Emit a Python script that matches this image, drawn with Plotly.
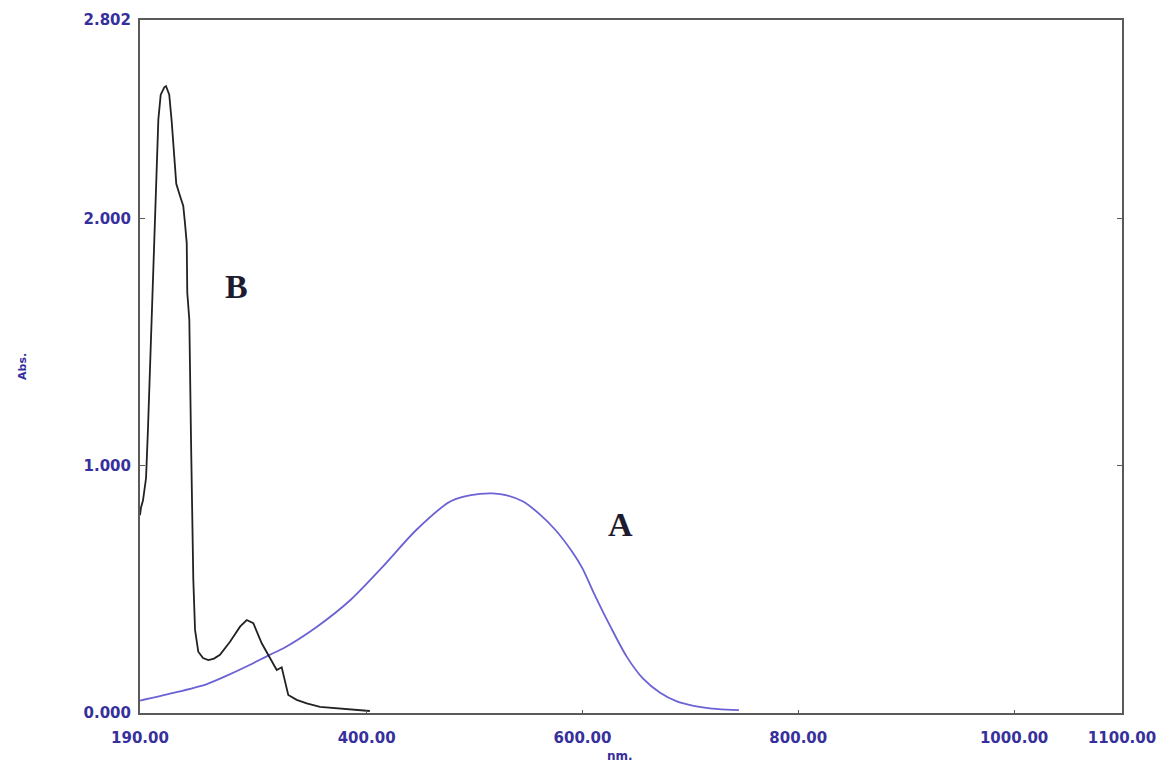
import plotly.graph_objects as go

# Curve A (blue) - wavelength (nm) and absorbance
A_nm = [190, 220, 252, 270, 292, 310, 323, 354, 385, 415, 446, 477, 490, 505, 517, 530,
        545, 560, 575, 590, 600, 610, 626, 641, 656, 672, 687, 703, 718, 734, 745]
A_abs = [0.050, 0.080, 0.117, 0.150, 0.195, 0.235, 0.262, 0.349, 0.457, 0.592, 0.740, 0.854,
         0.875, 0.886, 0.888, 0.880, 0.855, 0.805, 0.740, 0.655, 0.585, 0.490, 0.349, 0.228,
         0.140, 0.082, 0.048, 0.029, 0.019, 0.014, 0.012]

# Curve B (black)
B_nm = [190.0, 190.9, 192.8, 195.6, 197.4, 199.3, 200.8, 202.3, 203.9, 205.8, 207.0, 209.2,
        212.5, 214.1, 217.1, 219.4, 221.0, 223.6, 227.1, 230.1, 231.7, 233.3, 233.8, 235.7,
        237.3, 239.4, 241.0, 244.0, 248.4, 253.3, 258.6, 264.1, 273.4, 282.7, 288.9, 295.0,
        302.8, 308.9, 313.5, 316.7, 321.3, 324.4, 327.4, 335.2, 344.5, 356.8, 372.3, 387.4, 403.0]
B_abs = [0.80, 0.83, 0.86, 0.95, 1.15, 1.40, 1.59, 1.83, 1.95, 2.21, 2.40, 2.50,
         2.53, 2.535, 2.50, 2.39, 2.29, 2.14, 2.09, 2.05, 1.98, 1.90, 1.70, 1.59,
         1.10, 0.54, 0.336, 0.248, 0.222, 0.214, 0.220, 0.235, 0.288, 0.349, 0.376, 0.363,
         0.282, 0.235, 0.194, 0.174, 0.185, 0.133, 0.073, 0.053, 0.039, 0.025, 0.019, 0.012, 0.008]

x_ticks = [190, 400, 600, 800, 1000, 1100]
x_ticktext = ["190.00", "400.00", "600.00", "800.00", "1000.00", "1100.00"]
y_ticks = [0, 1, 2, 2.802]
y_ticktext = ["0.000", "1.000", "2.000", "2.802"]

label_color = "#36309c"
frame_color = "#5a5a5a"

fig = go.Figure()
fig.add_trace(go.Scatter(x=A_nm, y=A_abs, mode="lines",
                         line=dict(color="#6b62d4", width=1.8, shape="spline", smoothing=0.8),
                         showlegend=False))
fig.add_trace(go.Scatter(x=B_nm, y=B_abs, mode="lines",
                         line=dict(color="#222222", width=1.8),
                         showlegend=False))

fig.add_annotation(x=279.6, y=1.724, text="<b>B</b>", showarrow=False,
                   font=dict(family="Liberation Serif", size=34, color="#1c1c2e"))
fig.add_annotation(x=635.7, y=0.761, text="<b>A</b>", showarrow=False,
                   font=dict(family="Liberation Serif", size=34, color="#1c1c2e"))

fig.add_annotation(xref="paper", yref="paper", x=0, y=0.50, xshift=-126,
                   text="<b>Abs.</b>", textangle=-90, showarrow=False,
                   font=dict(family="DejaVu Sans", size=11, color=label_color))
fig.add_annotation(xref="paper", yref="paper", x=(620 - 140) / 982, y=0, yanchor="top",
                   yshift=-34, text="<b>nm.</b>", showarrow=False,
                   font=dict(family="DejaVu Sans", size=12, color=label_color))

fig.update_layout(
    width=1156, height=763,
    margin=dict(l=140, r=34, t=20, b=50, autoexpand=False),
    paper_bgcolor="white", plot_bgcolor="white",
    showlegend=False,
)
fig.update_xaxes(range=[190, 1100], tickvals=x_ticks, ticktext=x_ticktext,
                 showgrid=False, zeroline=False, showline=True, linecolor=frame_color,
                 linewidth=2, mirror=True, ticks="inside", ticklen=3, tickcolor=frame_color,
                 ticklabelstandoff=10, automargin=False, ticklabeloverflow="allow",
                 tickfont=dict(family="DejaVu Sans", size=15, color=label_color, weight="bold"))
fig.update_yaxes(range=[0, 2.802], tickvals=y_ticks, ticktext=y_ticktext,
                 showgrid=False, zeroline=False, showline=True, linecolor=frame_color,
                 linewidth=2, mirror="ticks", ticks="inside", ticklen=5, tickcolor=frame_color,
                 ticklabelstandoff=4, automargin=False,
                 tickfont=dict(family="DejaVu Sans", size=15, color=label_color, weight="bold"))

fig.write_html("out.html")
